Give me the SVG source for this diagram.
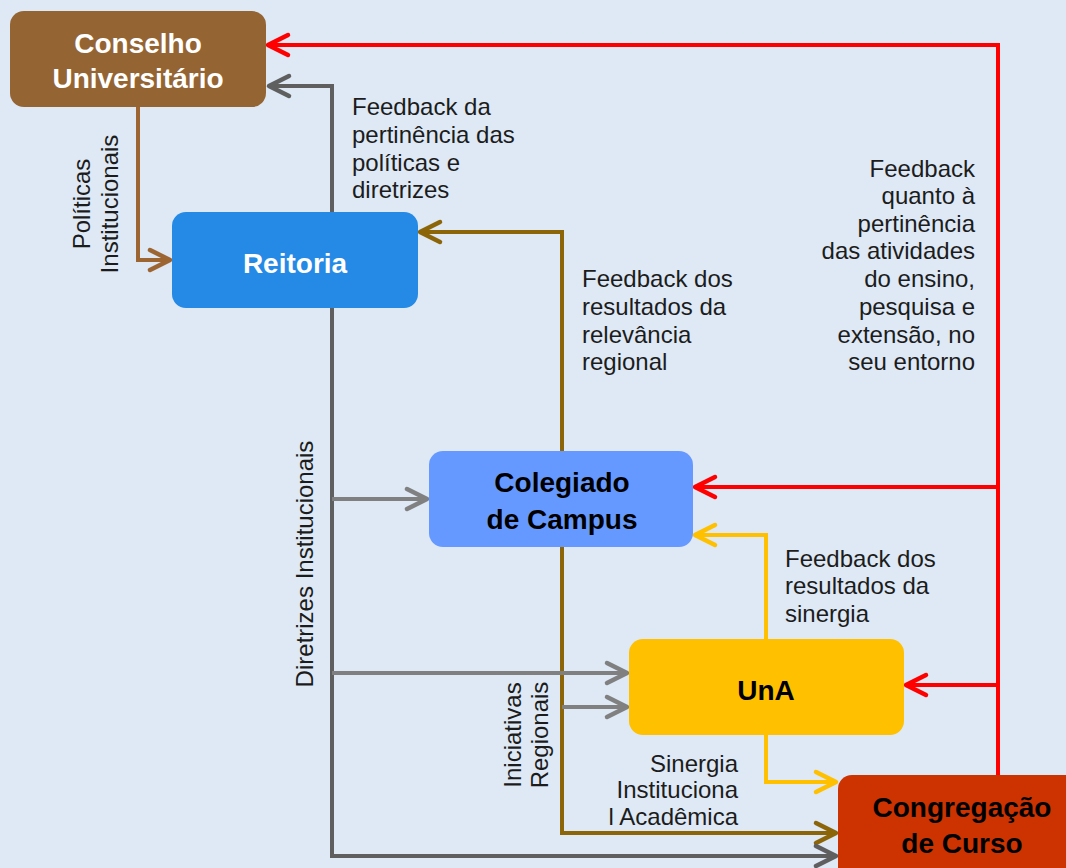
<svg xmlns="http://www.w3.org/2000/svg" width="1066" height="868" viewBox="0 0 1066 868">
  <style>
    .node-label { font-family: "Liberation Sans", Arial, sans-serif; font-weight: bold; font-size: 28px; text-anchor: middle; }
    .note { font-family: "Liberation Sans", Arial, sans-serif; font-size: 24px; fill: #1c1c1c; }
    .end { text-anchor: end; }
    .mid { text-anchor: middle; }
    .wire { fill: none; stroke-width: 4; stroke-linejoin: miter; }
    .red { stroke: #ff0000; }
    .dark { stroke: #5f5f5f; }
    .grey { stroke: #808080; }
    .olive { stroke: #8b6508; }
    .brown { stroke: #9c6532; }
    .amber { stroke: #ffc000; }
  </style>
  <defs>
    <marker id="ah-red" markerUnits="userSpaceOnUse" markerWidth="30" markerHeight="30" viewBox="-25 -15 30 30" refX="0" refY="0" orient="auto" overflow="visible">
      <path d="M-20,-10 L0,0 L-20,10" fill="none" stroke="#ff0000" stroke-width="4.5" stroke-linecap="round" stroke-linejoin="round"/>
    </marker>
    <marker id="ah-dark" markerUnits="userSpaceOnUse" markerWidth="30" markerHeight="30" viewBox="-25 -15 30 30" refX="0" refY="0" orient="auto" overflow="visible">
      <path d="M-20,-10 L0,0 L-20,10" fill="none" stroke="#5f5f5f" stroke-width="4.5" stroke-linecap="round" stroke-linejoin="round"/>
    </marker>
    <marker id="ah-grey" markerUnits="userSpaceOnUse" markerWidth="30" markerHeight="30" viewBox="-25 -15 30 30" refX="0" refY="0" orient="auto" overflow="visible">
      <path d="M-20,-10 L0,0 L-20,10" fill="none" stroke="#808080" stroke-width="4.5" stroke-linecap="round" stroke-linejoin="round"/>
    </marker>
    <marker id="ah-olive" markerUnits="userSpaceOnUse" markerWidth="30" markerHeight="30" viewBox="-25 -15 30 30" refX="0" refY="0" orient="auto" overflow="visible">
      <path d="M-20,-10 L0,0 L-20,10" fill="none" stroke="#8b6508" stroke-width="4.5" stroke-linecap="round" stroke-linejoin="round"/>
    </marker>
    <marker id="ah-brown" markerUnits="userSpaceOnUse" markerWidth="30" markerHeight="30" viewBox="-25 -15 30 30" refX="0" refY="0" orient="auto" overflow="visible">
      <path d="M-20,-10 L0,0 L-20,10" fill="none" stroke="#9c6532" stroke-width="4.5" stroke-linecap="round" stroke-linejoin="round"/>
    </marker>
    <marker id="ah-amber" markerUnits="userSpaceOnUse" markerWidth="30" markerHeight="30" viewBox="-25 -15 30 30" refX="0" refY="0" orient="auto" overflow="visible">
      <path d="M-20,-10 L0,0 L-20,10" fill="none" stroke="#ffc000" stroke-width="4.5" stroke-linecap="round" stroke-linejoin="round"/>
    </marker>
  </defs>

  <rect x="0" y="0" width="1066" height="868" fill="#dee9f5"/>

  <!-- connectors -->
  <g id="connectors">
    <!-- council policies down to rectory -->
    <path class="wire brown" d="M138,107 V260 H170" marker-end="url(#ah-brown)"/>
    <!-- rectory feedback up to council -->
    <path class="wire dark" d="M332,212 V86 H269" marker-end="url(#ah-dark)"/>
    <!-- campus board feedback to rectory, regional initiatives down to course -->
    <path class="wire olive" d="M562,451 V232 H420" marker-end="url(#ah-olive)"/>
    <path class="wire olive" d="M562,547 V833 H836" marker-end="url(#ah-olive)"/>
    <!-- institutional guidelines trunk -->
    <path class="wire dark" d="M332,308 V856 H836" marker-end="url(#ah-dark)"/>
    <path class="wire grey" d="M332,499 H427" marker-end="url(#ah-grey)"/>
    <path class="wire grey" d="M332,673 H627" marker-end="url(#ah-grey)"/>
    <path class="wire grey" d="M562,707 H627" marker-end="url(#ah-grey)"/>
    <!-- UnA synergy links -->
    <path class="wire amber" d="M766,639 V535 H695" marker-end="url(#ah-amber)"/>
    <path class="wire amber" d="M766,735 V782 H836" marker-end="url(#ah-amber)"/>
    <!-- course congregation feedback loop -->
    <path class="wire red" d="M998,775 V45 H268" marker-end="url(#ah-red)"/>
    <path class="wire red" d="M998,487 H695" marker-end="url(#ah-red)"/>
    <path class="wire red" d="M998,685 H906" marker-end="url(#ah-red)"/>
  </g>

  <!-- nodes -->
  <g id="conselho">
    <rect x="10" y="11" width="256" height="96" rx="14" fill="#956433"/>
    <text class="node-label" fill="#ffffff"><tspan x="138" y="53">Conselho</tspan><tspan x="138" y="88">Universitário</tspan></text>
  </g>
  <g id="reitoria">
    <rect x="172" y="212" width="246" height="96" rx="14" fill="#2589e6"/>
    <text class="node-label" fill="#ffffff" x="295" y="273">Reitoria</text>
  </g>
  <g id="colegiado">
    <rect x="429" y="451" width="264" height="96" rx="14" fill="#6699ff"/>
    <text class="node-label" fill="#000000"><tspan x="562" y="492">Colegiado</tspan><tspan x="562" y="529">de Campus</tspan></text>
  </g>
  <g id="una">
    <rect x="629" y="639" width="275" height="96" rx="14" fill="#ffc000"/>
    <text class="node-label" fill="#000000" x="766" y="700">UnA</text>
  </g>
  <g id="congregacao">
    <rect x="838" y="775" width="250" height="110" rx="14" fill="#cc3300"/>
    <text class="node-label" fill="#000000"><tspan x="962" y="817">Congregação</tspan><tspan x="962" y="853">de Curso</tspan></text>
  </g>

  <!-- connector labels -->
  <g id="labels">
    <text class="note mid" transform="translate(90,204) rotate(-90)">Políticas</text>
    <text class="note mid" transform="translate(118,204) rotate(-90)">Institucionais</text>

    <text class="note"><tspan x="352" y="115">Feedback da</tspan><tspan x="352" y="143">pertinência das</tspan><tspan x="352" y="171">políticas e</tspan><tspan x="352" y="198">diretrizes</tspan></text>

    <text class="note"><tspan x="582" y="287">Feedback dos</tspan><tspan x="582" y="315">resultados da</tspan><tspan x="582" y="343">relevância</tspan><tspan x="582" y="370">regional</tspan></text>

    <text class="note end"><tspan x="975" y="177">Feedback</tspan><tspan x="975" y="204">quanto à</tspan><tspan x="975" y="232">pertinência</tspan><tspan x="975" y="259">das atividades</tspan><tspan x="975" y="287">do ensino,</tspan><tspan x="975" y="315">pesquisa e</tspan><tspan x="975" y="343">extensão, no</tspan><tspan x="975" y="370">seu entorno</tspan></text>

    <text class="note mid" transform="translate(313,564) rotate(-90)">Diretrizes Institucionais</text>

    <text class="note mid" transform="translate(521,735) rotate(-90)">Iniciativas</text>
    <text class="note mid" transform="translate(548,735) rotate(-90)">Regionais</text>

    <text class="note"><tspan x="785" y="567">Feedback dos</tspan><tspan x="785" y="594">resultados da</tspan><tspan x="785" y="622">sinergia</tspan></text>

    <text class="note end"><tspan x="738" y="772">Sinergia</tspan><tspan x="738" y="798">Instituciona</tspan><tspan x="738" y="825">l Acadêmica</tspan></text>
  </g>
</svg>
